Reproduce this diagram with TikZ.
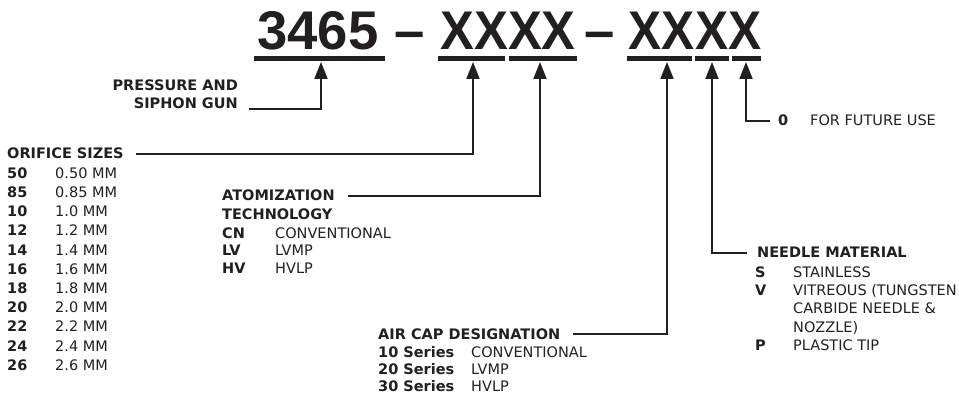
\documentclass[tikz,border=0pt]{standalone}
\usepackage{fontspec}
\setmainfont{DejaVu Sans}
\newfontfamily\partfont{Liberation Sans}
\usepackage{tikz}
\usetikzlibrary{arrows.meta}
\definecolor{ink}{HTML}{231F20}

\begin{document}
\begin{tikzpicture}[x=1pt,y=-1pt,
	txt/.style={anchor=base west,inner sep=0pt,text=ink,font=\fontsize{14.5}{17}\selectfont},
	head/.style={txt,font=\fontsize{14.5}{17}\selectfont\bfseries},
	big/.style={anchor=base,inner sep=0pt,text=ink,font=\partfont\fontsize{54.5}{60}\selectfont\bfseries},
	bar/.style={draw=ink,line width=5pt},
	pointer/.style={draw=ink,line width=2pt,-{Triangle[length=17pt,width=13pt]}}]
				\useasboundingbox (0,0) rectangle (959,398);
				\node[big] (code) at (318,50) {3465};
				\node[big] (dasha) at (410,50) {–};
				\node[big] (grpa) at (508,50) {\scalebox{0.93}[1]{XXXX}};
				\node[big] (dashb) at (600,50) {–};
				\node[big] (grpb) at (695,50) {\scalebox{0.91}[1]{XXXX}};
				\draw[bar] (254,59) -- (385,59);
				\draw[bar] (438,59) -- (505,59);
				\draw[bar] (509,59) -- (577,59);
				\draw[bar] (627,59) -- (692,59);
				\draw[bar] (695,59) -- (729,59);
				\draw[bar] (732,59) -- (761,59);
				\coordinate (tipa) at (321,62);
				\coordinate (tipb) at (473,62);
				\coordinate (tipc) at (540,62);
				\coordinate (tipd) at (667,62);
				\coordinate (tipe) at (712,62);
				\coordinate (tipf) at (746,62);
				\node[head,anchor=base east] (press) at (238,91) {PRESSURE AND};
				\node[head,anchor=base east] (siphon) at (238,109) {SIPHON GUN};
				\node[head] (orifice) at (7,159) {ORIFICE SIZES};
				\foreach \c/\v [count=\i from 0] in {50/0.50 MM,85/0.85 MM,10/1.0 MM,12/1.2 MM,14/1.4 MM,16/1.6 MM,18/1.8 MM,20/2.0 MM,22/2.2 MM,24/2.4 MM,26/2.6 MM}{
					\node[head] (oc\i) at (7,178.3+19.2*\i) {\c};
					\node[txt] (ov\i) at (55,178.3+19.2*\i) {\v};
				}
				\node[head] (atom) at (222,201) {ATOMIZATION};
				\node[head] (techn) at (222,220) {TECHNOLOGY};
				\node[head] (cn) at (222,239) {CN};
				\node[txt] (cnv) at (275,239) {CONVENTIONAL};
				\node[head] (lv) at (222,256) {LV};
				\node[txt] (lvv) at (275,256) {LVMP};
				\node[head] (hv) at (222,273) {HV};
				\node[txt] (hvv) at (275,273) {HVLP};
				\node[head] (aircap) at (378,339) {AIR CAP DESIGNATION};
				\node[head] (sa) at (378,357) {10 Series};
				\node[txt] (sav) at (471,357) {CONVENTIONAL};
				\node[head] (sb) at (378,374) {20 Series};
				\node[txt] (sbv) at (471,374) {LVMP};
				\node[head] (sc) at (378,391) {30 Series};
				\node[txt] (scv) at (471,391) {HVLP};
				\node[head] (needle) at (757,258) {NEEDLE MATERIAL};
				\node[head] (ns) at (755,277) {S};
				\node[txt] (nsv) at (793,277) {STAINLESS};
				\node[head] (nv) at (755,295) {V};
				\node[txt] (nvv) at (793,295) {VITREOUS (TUNGSTEN};
				\node[txt] (nvw) at (793,313) {CARBIDE NEEDLE \&};
				\node[txt] (nvx) at (793,332) {NOZZLE)};
				\node[head] (np) at (755,350) {P};
				\node[txt] (npv) at (793,350) {PLASTIC TIP};
				\node[head] (zero) at (778,126) {0};
				\node[txt] (future) at (810,126) {FOR FUTURE USE};
				\draw[pointer] ([xshift=11pt]siphon.base east) -| (tipa);
				\draw[pointer] ([xshift=12pt]orifice.east) -| (tipb);
				\draw[pointer] ([xshift=13pt]atom.east) -| (tipc);
				\draw[pointer] ([xshift=13pt]aircap.east) -| (tipd);
				\draw[pointer] ([xshift=-10pt]needle.west) -| (tipe);
				\draw[pointer] ([xshift=-8pt]zero.west) -| (tipf);
			\end{tikzpicture}
\end{document}
